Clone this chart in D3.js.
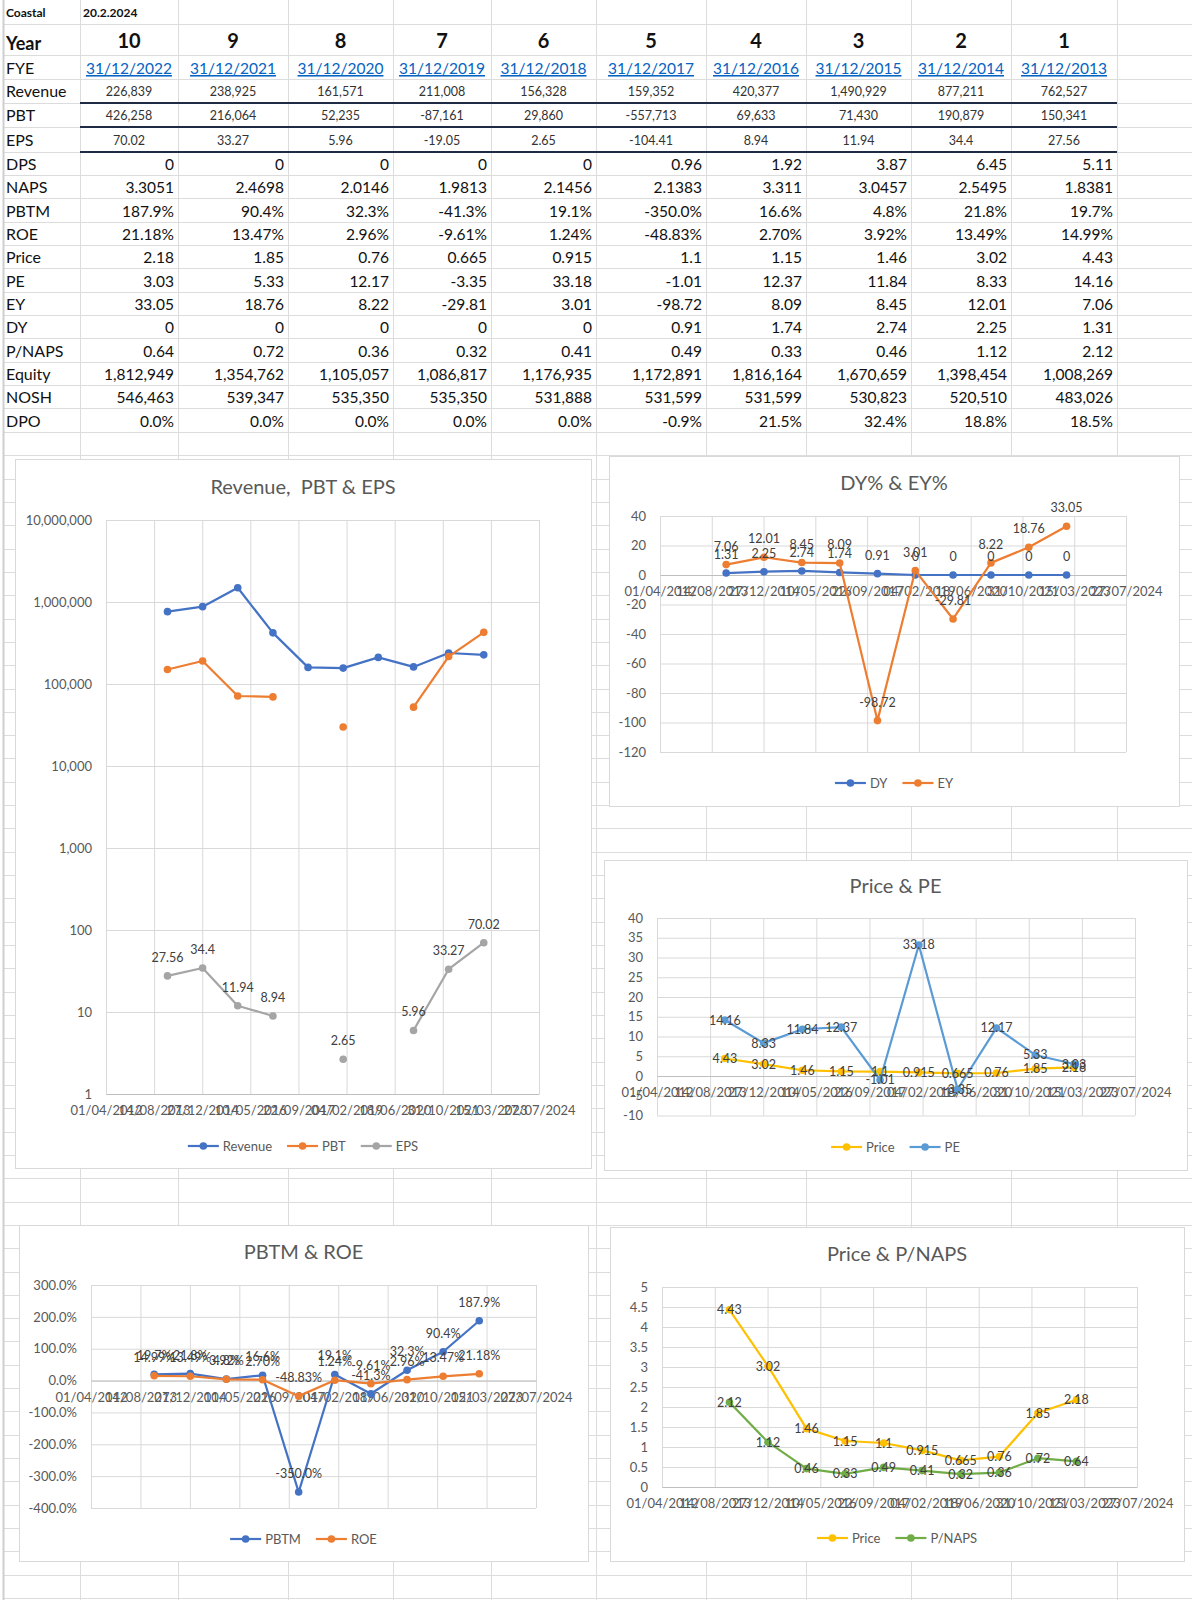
<!DOCTYPE html>
<html>
<head>
<meta charset="utf-8">
<script src="https://cdn.jsdelivr.net/npm/d3@7"></script>
<style>
  body { margin: 0; background: #fff; }
  text { font-family: Lato, 'Open Sans', sans-serif; }
</style>
</head>
<body>
<script>
(function (d3) {
  'use strict';

  // ---- data ----
  const company = 'Coastal';
  const asAt = '20.2.2024';
  const yearNo = [10, 9, 8, 7, 6, 5, 4, 3, 2, 1];
  const fye = ['31/12/2022', '31/12/2021', '31/12/2020', '31/12/2019', '31/12/2018',
               '31/12/2017', '31/12/2016', '31/12/2015', '31/12/2014', '31/12/2013'];
  const revenue = [226839, 238925, 161571, 211008, 156328, 159352, 420377, 1490929, 877211, 762527];
  const pbt = [426258, 216064, 52235, -87161, 29860, -557713, 69633, 71430, 190879, 150341];
  const eps = [70.02, 33.27, 5.96, -19.05, 2.65, -104.41, 8.94, 11.94, 34.4, 27.56];
  const dps = [0, 0, 0, 0, 0, 0.96, 1.92, 3.87, 6.45, 5.11];
  const naps = [3.3051, 2.4698, 2.0146, 1.9813, 2.1456, 2.1383, 3.311, 3.0457, 2.5495, 1.8381];
  const pbtm = [187.9, 90.4, 32.3, -41.3, 19.1, -350.0, 16.6, 4.8, 21.8, 19.7];
  const roe = [21.18, 13.47, 2.96, -9.61, 1.24, -48.83, 2.70, 3.92, 13.49, 14.99];
  const price = [2.18, 1.85, 0.76, 0.665, 0.915, 1.1, 1.15, 1.46, 3.02, 4.43];
  const pe = [3.03, 5.33, 12.17, -3.35, 33.18, -1.01, 12.37, 11.84, 8.33, 14.16];
  const ey = [33.05, 18.76, 8.22, -29.81, 3.01, -98.72, 8.09, 8.45, 12.01, 7.06];
  const dy = [0, 0, 0, 0, 0, 0.91, 1.74, 2.74, 2.25, 1.31];
  const pnaps = [0.64, 0.72, 0.36, 0.32, 0.41, 0.49, 0.33, 0.46, 1.12, 2.12];
  const equity = [1812949, 1354762, 1105057, 1086817, 1176935, 1172891, 1816164, 1670659, 1398454, 1008269];
  const nosh = [546463, 539347, 535350, 535350, 531888, 531599, 531599, 530823, 520510, 483026];
  const dpo = [0.0, 0.0, 0.0, 0.0, 0.0, -0.9, 21.5, 32.4, 18.8, 18.5];

  const tickLabels = ['01/04/2012', '14/08/2013', '27/12/2014', '10/05/2016', '22/09/2017',
                      '04/02/2019', '18/06/2020', '31/10/2021', '15/03/2023', '27/07/2024'];

  const parseDate = d3.utcParse('%d/%m/%Y');
  const tickDates = tickLabels.map(parseDate);
  const fmtInt = d3.format(',');
  const fmtNum = (v) => (v < 0 ? '-' : '') + fmtInt(Math.abs(v));

  const W = 1192;
  const H = 1600;
  const FONT = "Lato, 'Open Sans', sans-serif";

  const svg = d3.select('body')
    .append('svg')
    .attr('width', W)
    .attr('height', H);

  svg.append('rect').attr('width', W).attr('height', H).attr('fill', '#fff');

  // ---- sheet grid ----
  const colEdges = [3, 80, 178, 288, 393, 491, 596, 706, 806, 911, 1011, 1117];
  const rowEdges = [24, 55, 79, 103, 127, 152, 175, 198, 222, 245, 268, 292, 315, 338, 362, 385, 408, 432];
  let ry = 432;
  while (ry < H) { ry += 23.32; rowEdges.push(ry); }

  const grid = svg.append('g').attr('stroke', '#dcdcdc').attr('stroke-width', 1);
  grid.selectAll('.hl').data(rowEdges).join('line')
    .attr('x1', 3).attr('x2', W)
    .attr('y1', (d) => Math.round(d) + 0.5).attr('y2', (d) => Math.round(d) + 0.5);
  grid.selectAll('.vl').data(colEdges).join('line')
    .attr('x1', (d) => d + 0.5).attr('x2', (d) => d + 0.5)
    .attr('y1', 0).attr('y2', H)
    .attr('stroke-width', (d, i) => (i === 0 ? 2 : 1))
    .attr('stroke', (d, i) => (i === 0 ? '#cfcfcf' : '#dcdcdc'));

  const colRight = (i) => colEdges[i + 2];
  const colMid = (i) => (colEdges[i + 1] + colEdges[i + 2]) / 2;

  const cell = (x, y, txt, opts = {}) => svg.append('text')
    .attr('x', x).attr('y', y)
    .attr('font-size', opts.size || 15.5)
    .attr('font-weight', opts.bold ? 'bold' : null)
    .attr('text-anchor', opts.anchor || 'start')
    .attr('fill', opts.fill || '#111')
    .style('text-decoration', opts.underline ? 'underline' : null)
    .text(txt);

  cell(6, 17, company, { size: 12, bold: true });
  cell(83, 17, asAt, { size: 12, bold: true });

  cell(6, 50, 'Year', { size: 18, bold: true });
  yearNo.forEach((v, i) => cell(colMid(i), 48, v, { size: 20, bold: true, anchor: 'middle' }));

  cell(6, 74, 'FYE', { size: 16 });
  fye.forEach((v, i) => cell(colMid(i), 74, v, { anchor: 'middle', fill: '#0563C1', underline: true }));

  const smallRows = [
    { label: 'Revenue', values: revenue, fmt: fmtNum, bottom: 103 },
    { label: 'PBT', values: pbt, fmt: fmtNum, bottom: 127 },
    { label: 'EPS', values: eps, fmt: String, bottom: 152 },
  ];
  smallRows.forEach((r) => {
    cell(6, r.bottom - 6, r.label, { size: 16 });
    r.values.forEach((v, i) => cell(colMid(i), r.bottom - 7, r.fmt(v), { size: 12.5, anchor: 'middle', fill: '#333' }));
  });

  // dark rules under Revenue / PBT / EPS
  svg.selectAll('.rule').data([103, 127, 152]).join('line')
    .attr('x1', colEdges[1]).attr('x2', colEdges[11])
    .attr('y1', (d) => d).attr('y2', (d) => d)
    .attr('stroke', '#1f2a44').attr('stroke-width', 1.8);

  const pct = (dp) => (v) => v.toFixed(dp) + '%';
  const bigRows = [
    { label: 'DPS', values: dps, fmt: String, bottom: 175 },
    { label: 'NAPS', values: naps, fmt: String, bottom: 198 },
    { label: 'PBTM', values: pbtm, fmt: pct(1), bottom: 222 },
    { label: 'ROE', values: roe, fmt: pct(2), bottom: 245 },
    { label: 'Price', values: price, fmt: String, bottom: 268 },
    { label: 'PE', values: pe, fmt: String, bottom: 292 },
    { label: 'EY', values: ey, fmt: String, bottom: 315 },
    { label: 'DY', values: dy, fmt: String, bottom: 338 },
    { label: 'P/NAPS', values: pnaps, fmt: String, bottom: 362 },
    { label: 'Equity', values: equity, fmt: fmtNum, bottom: 385 },
    { label: 'NOSH', values: nosh, fmt: fmtNum, bottom: 408 },
    { label: 'DPO', values: dpo, fmt: pct(1), bottom: 432 },
  ];
  bigRows.forEach((r) => {
    cell(6, r.bottom - 5, r.label, { size: 16 });
    r.values.forEach((v, i) => cell(colRight(i) - 4, r.bottom - 5, r.fmt(v), { anchor: 'end' }));
  });

  // ---- charts ----
  const points = (vals) => fye.map((f, i) => ({ date: parseDate(f), v: vals[i] }));

  const styleText = (sel, size, fill) => sel
    .attr('font-family', FONT).attr('font-size', size)
    .selectAll('text').attr('fill', fill);

  const drawChart = (cfg) => {
    const [bx0, by0, bx1, by1] = cfg.box;
    const [px0, px1, py0, py1] = cfg.plot;
    const g = svg.append('g');

    g.append('rect')
      .attr('x', bx0 + 0.5).attr('y', by0 + 0.5)
      .attr('width', bx1 - bx0).attr('height', by1 - by0)
      .attr('fill', '#fff').attr('stroke', '#d9d9d9');

    g.append('text')
      .attr('x', (bx0 + bx1) / 2).attr('y', cfg.titleY)
      .attr('text-anchor', 'middle')
      .attr('font-size', 20).attr('fill', '#595959')
      .style('white-space', 'pre')
      .text(cfg.title);

    const x = d3.scaleUtc()
      .domain([tickDates[0], tickDates[tickDates.length - 1]])
      .range([px0, px1]);
    const y = (cfg.log ? d3.scaleLog() : d3.scaleLinear())
      .domain(cfg.yDomain)
      .range([py1, py0]);

    // horizontal gridlines + y labels
    g.append('g')
      .attr('transform', `translate(${px0},0)`)
      .call(d3.axisLeft(y).tickValues(cfg.yTicks).tickFormat(cfg.yFmt)
        .tickSize(-(px1 - px0)).tickPadding(14))
      .call((a) => {
        a.select('.domain').remove();
        a.selectAll('line').attr('stroke', '#d9d9d9');
        styleText(a, 13, '#595959');
      });

    // vertical gridlines
    g.append('g')
      .attr('transform', `translate(0,${py1})`)
      .call(d3.axisBottom(x).tickValues(tickDates).tickFormat('')
        .tickSize(-(py1 - py0)))
      .call((a) => {
        a.select('.domain').remove();
        a.selectAll('line').attr('stroke', '#d9d9d9');
      });

    // date axis
    g.append('g')
      .attr('transform', `translate(0,${y(cfg.xAt)})`)
      .call(d3.axisBottom(x).tickValues(tickDates)
        .tickFormat((d, i) => tickLabels[i])
        .tickSize(0).tickSizeOuter(0).tickPadding(12))
      .call((a) => {
        a.select('.domain').attr('stroke', '#bfbfbf');
        styleText(a, 13, '#595959');
      });

    const ok = (d) => (cfg.log ? d.v > 0 : true);
    const line = d3.line().defined(ok).x((d) => x(d.date)).y((d) => y(d.v));

    cfg.series.forEach((s) => {
      const pts = points(s.values);
      g.append('path')
        .datum(pts)
        .attr('d', line)
        .attr('fill', 'none')
        .attr('stroke', s.color)
        .attr('stroke-width', 2.2)
        .attr('stroke-linejoin', 'round');
      g.append('g').selectAll('circle')
        .data(pts.filter(ok))
        .join('circle')
        .attr('cx', (d) => x(d.date))
        .attr('cy', (d) => y(d.v))
        .attr('r', 3.8)
        .attr('fill', s.color);
    });

    cfg.series.filter((s) => s.labels).forEach((s) => {
      g.append('g').selectAll('text')
        .data(points(s.values).filter(ok))
        .join('text')
        .attr('x', (d) => x(d.date))
        .attr('y', (d) => (s.labels === 'above' ? y(d.v) - 14 : y(d.v) + 4.5))
        .attr('text-anchor', 'middle')
        .attr('font-size', 12.5)
        .attr('fill', '#404040')
        .text((d) => s.fmt(d.v));
    });

    // legend
    const lg = g.append('g');
    let cx = 0;
    cfg.series.forEach((s) => {
      const e = lg.append('g').attr('transform', `translate(${cx},0)`);
      e.append('line').attr('x1', 0).attr('x2', 31)
        .attr('stroke', s.color).attr('stroke-width', 2.2);
      e.append('circle').attr('cx', 15.5).attr('r', 3.8).attr('fill', s.color);
      const t = e.append('text')
        .attr('x', 35).attr('dy', '0.36em')
        .attr('font-size', 13).attr('fill', '#595959')
        .text(s.name);
      cx += 35 + t.node().getComputedTextLength() + 15;
    });
    lg.attr('transform', `translate(${(bx0 + bx1) / 2 - (cx - 15) / 2},${cfg.legendY})`);
  };

  const linTicks = (lo, hi, step) => d3.range(lo, hi + step / 2, step);

  drawChart({
    box: [15, 459, 591, 1168],
    title: 'Revenue,  PBT & EPS',
    titleY: 494,
    plot: [106, 539, 520, 1094],
    log: true,
    yDomain: [1, 1e7],
    yTicks: [1, 10, 100, 1e3, 1e4, 1e5, 1e6, 1e7],
    yFmt: fmtInt,
    xAt: 1,
    legendY: 1146,
    series: [
      { name: 'Revenue', values: revenue, color: '#4472C4' },
      { name: 'PBT', values: pbt, color: '#ED7D31' },
      { name: 'EPS', values: eps, color: '#A5A5A5', labels: 'above', fmt: String },
    ],
  });

  drawChart({
    box: [609, 456, 1179, 806],
    title: 'DY% & EY%',
    titleY: 490,
    plot: [660, 1126, 516, 752],
    yDomain: [-120, 40],
    yTicks: linTicks(-120, 40, 20),
    yFmt: String,
    xAt: 0,
    legendY: 783,
    series: [
      { name: 'DY', values: dy, color: '#4472C4', labels: 'above', fmt: String },
      { name: 'EY', values: ey, color: '#ED7D31', labels: 'above', fmt: String },
    ],
  });

  drawChart({
    box: [604, 860, 1187, 1170],
    title: 'Price & PE',
    titleY: 893,
    plot: [657, 1135, 918, 1115.5],
    yDomain: [-10, 40],
    yTicks: linTicks(-10, 40, 5),
    yFmt: String,
    xAt: 0,
    legendY: 1147,
    series: [
      { name: 'Price', values: price, color: '#FFC000', labels: 'center', fmt: String },
      { name: 'PE', values: pe, color: '#5B9BD5', labels: 'center', fmt: String },
    ],
  });

  drawChart({
    box: [19, 1225, 588, 1561],
    title: 'PBTM & ROE',
    titleY: 1259,
    plot: [91, 536, 1285, 1508],
    yDomain: [-400, 300],
    yTicks: linTicks(-400, 300, 100),
    yFmt: (v) => v.toFixed(1) + '%',
    xAt: 0,
    legendY: 1539,
    series: [
      { name: 'PBTM', values: pbtm, color: '#4472C4', labels: 'above', fmt: pct(1) },
      { name: 'ROE', values: roe, color: '#ED7D31', labels: 'above', fmt: pct(2) },
    ],
  });

  drawChart({
    box: [610, 1227, 1184, 1561],
    title: 'Price & P/NAPS',
    titleY: 1261,
    plot: [662, 1137, 1287, 1487],
    yDomain: [0, 5],
    yTicks: linTicks(0, 5, 0.5),
    yFmt: String,
    xAt: 0,
    legendY: 1538,
    series: [
      { name: 'Price', values: price, color: '#FFC000', labels: 'center', fmt: String },
      { name: 'P/NAPS', values: pnaps, color: '#70AD47', labels: 'center', fmt: String },
    ],
  });

}(d3));
</script>
</body>
</html>
